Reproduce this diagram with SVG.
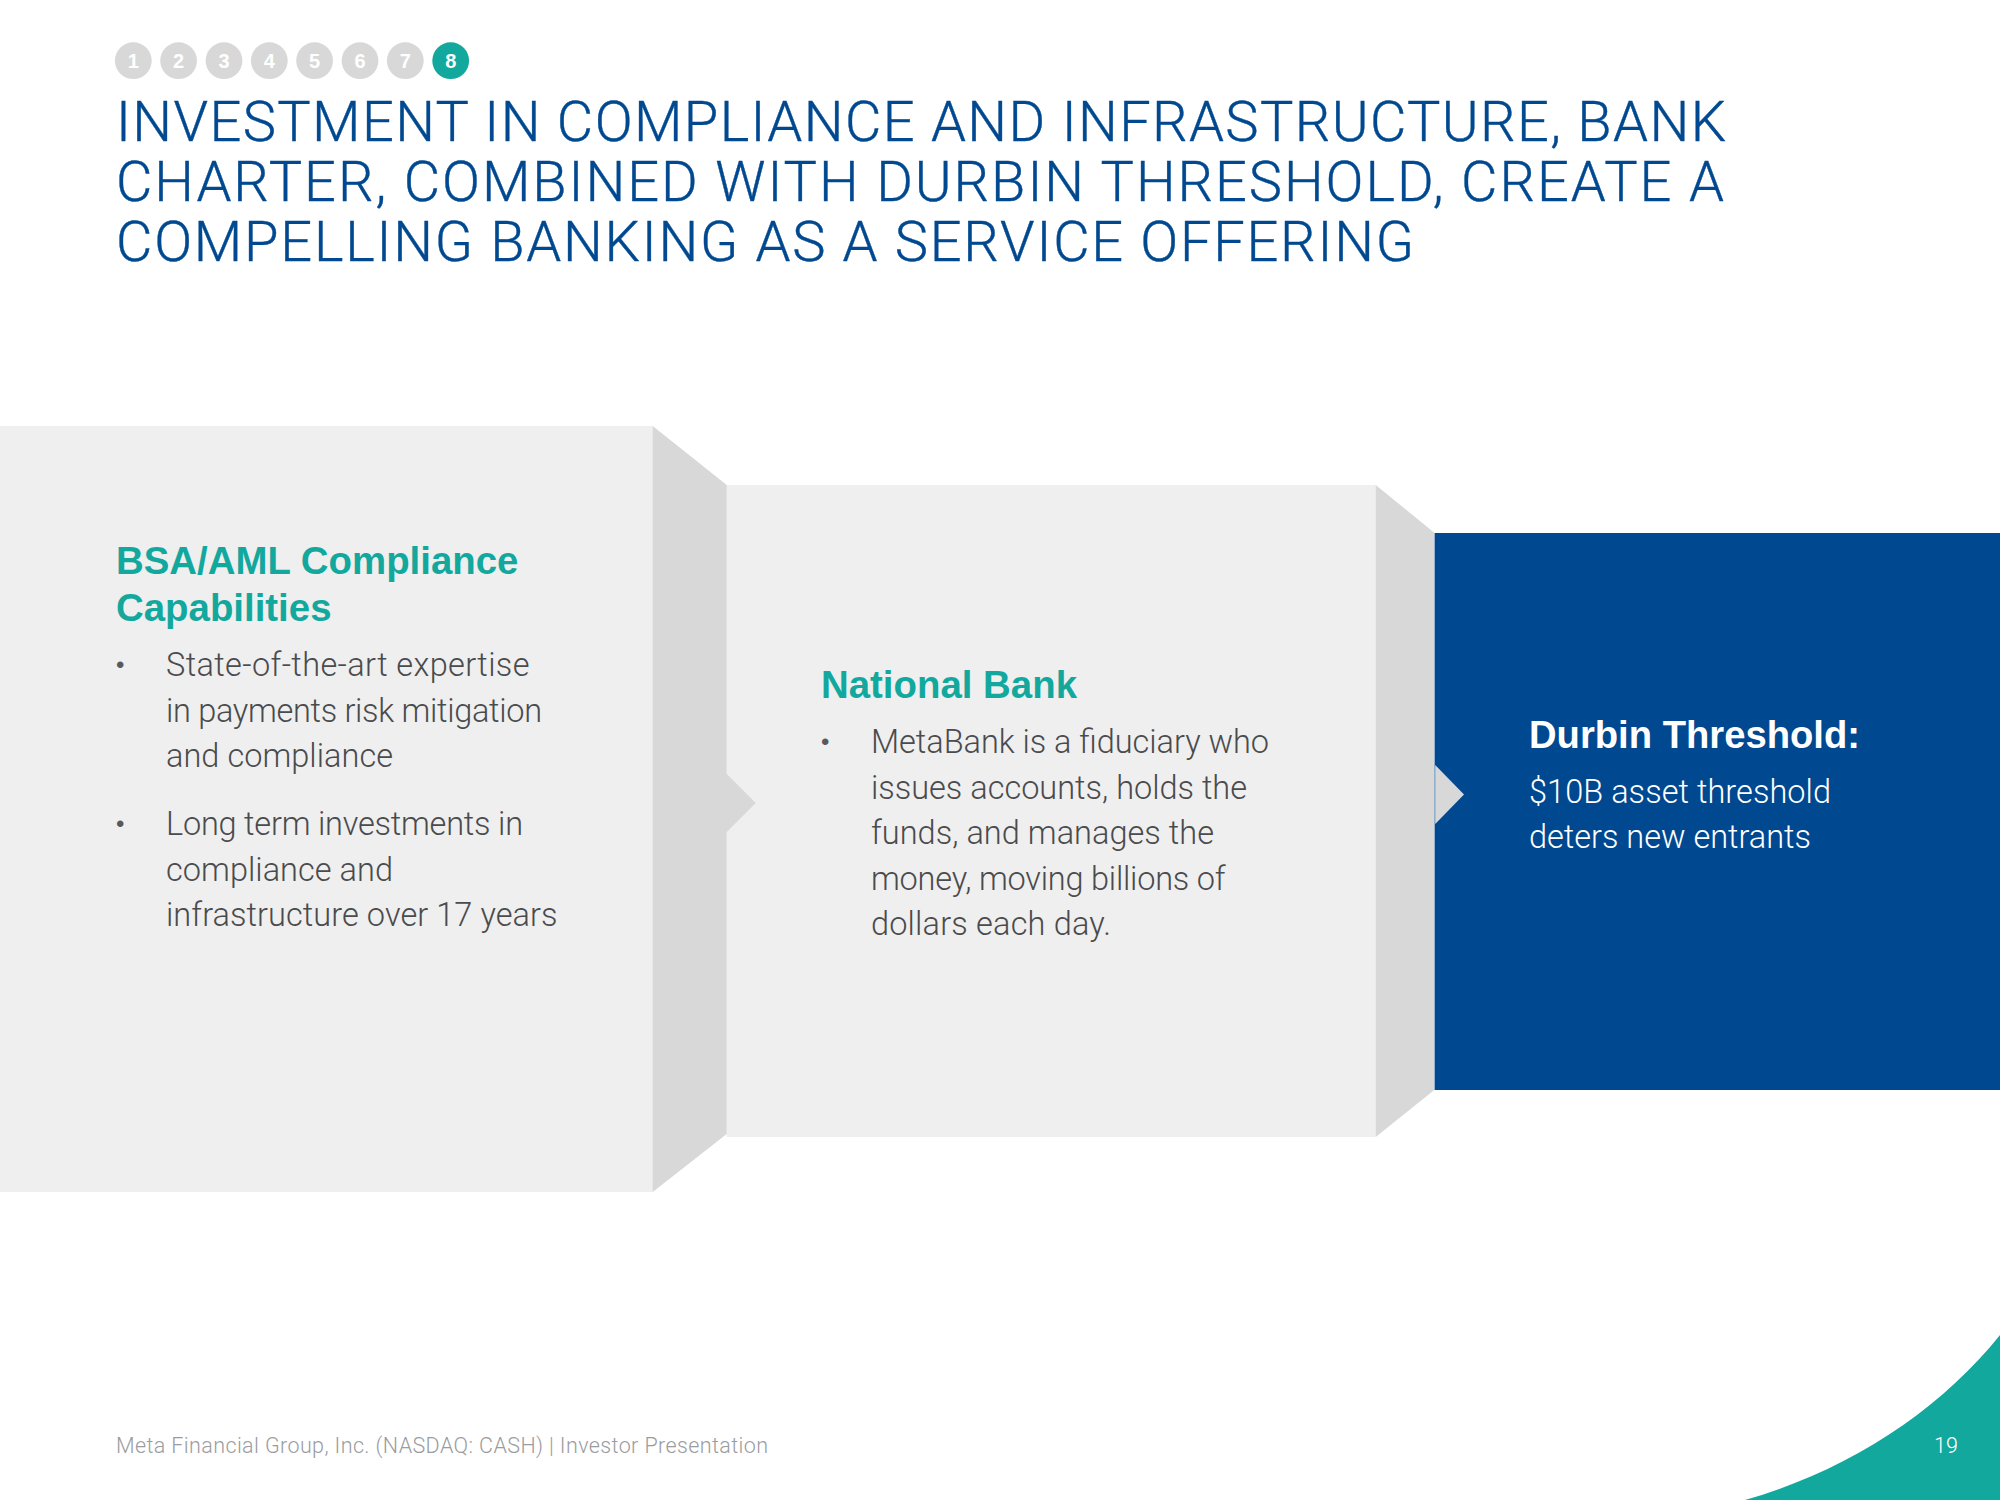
<svg xmlns="http://www.w3.org/2000/svg" width="2000" height="1500" viewBox="0 0 2000 1500">
<style>
text{font-family:"Liberation Sans",Arial,sans-serif}
.d{fill:#d8d8d8}.l{fill:#efefef}
.n{font-size:20px;font-weight:700;fill:#fff;text-anchor:middle}
.t{font-family:Roboto,"Liberation Sans",sans-serif;font-weight:300;font-size:56px;fill:#004990;stroke:#004990;stroke-width:.4px}
.h{font-size:38.400px;font-weight:700;fill:#13a89e}
.b{font-family:Roboto,"Liberation Sans",sans-serif;font-weight:300;font-size:32.500px;fill:#4a4b4d}
.u{font-size:24px;fill:#58595b}
.w{font-family:Roboto,"Liberation Sans",sans-serif;font-weight:300;font-size:32.500px;fill:#fff}
.f{font-family:Roboto,"Liberation Sans",sans-serif;font-weight:300;font-size:21.500px}
</style>
<rect width="2000" height="1500" fill="#fff"/>
<g id="steps">
<circle class="d" cx="133.300" cy="60.700" r="18.4"/><text class="n" x="133.300" y="68">1</text>
<circle class="d" cx="178.600" cy="60.700" r="18.4"/><text class="n" x="178.600" y="68">2</text>
<circle class="d" cx="224" cy="60.700" r="18.4"/><text class="n" x="224" y="68">3</text>
<circle class="d" cx="269.300" cy="60.700" r="18.4"/><text class="n" x="269.300" y="68">4</text>
<circle class="d" cx="314.600" cy="60.700" r="18.4"/><text class="n" x="314.600" y="68">5</text>
<circle class="d" cx="360" cy="60.700" r="18.4"/><text class="n" x="360" y="68">6</text>
<circle class="d" cx="405.300" cy="60.700" r="18.4"/><text class="n" x="405.300" y="68">7</text>
<circle cx="450.700" cy="60.700" r="18.4" fill="#13a89e"/><text class="n" x="450.700" y="68">8</text>
</g>
<g id="title">
<text class="t" x="116" y="141" textLength="1610">INVESTMENT IN COMPLIANCE AND INFRASTRUCTURE, BANK</text>
<text class="t" x="116" y="201" textLength="1608">CHARTER, COMBINED WITH DURBIN THRESHOLD, CREATE A</text>
<text class="t" x="116" y="261" textLength="1298">COMPELLING BANKING AS A SERVICE OFFERING</text>
</g>
<g id="node2">
<rect class="l" x="726.700" y="485" width="649" height="652"/>
<path class="d" d="M1375.700 485L1434.300 532.700V1090L1375.700 1137Z"/>
<text class="h" x="821" y="698">National Bank</text>
<text class="u" x="821" y="750">•</text>
<text class="b" x="871" y="753" textLength="398">MetaBank is a fiduciary who</text>
<text class="b" x="871" y="799" textLength="376">issues accounts, holds the</text>
<text class="b" x="871" y="844" textLength="343">funds, and manages the</text>
<text class="b" x="871" y="890" textLength="354.600">money, moving billions of</text>
<text class="b" x="871" y="935" textLength="240">dollars each day.</text>
</g>
<g id="node1">
<rect class="l" x="0" y="426" width="653" height="766"/>
<path class="d" d="M652.700 426L726.700 485V774L755.700 803L726.700 832V1134L652.700 1192Z"/>
<text class="h" x="116" y="574">BSA/AML Compliance</text>
<text class="h" x="116" y="621">Capabilities</text>
<text class="u" x="116" y="673">•</text>
<text class="b" x="166" y="676" textLength="363.500">State-of-the-art expertise</text>
<text class="b" x="166" y="722" textLength="376">in payments risk mitigation</text>
<text class="b" x="166" y="767" textLength="227">and compliance</text>
<text class="u" x="116" y="832">•</text>
<text class="b" x="166" y="835" textLength="357">Long term investments in</text>
<text class="b" x="166" y="881" textLength="227">compliance and</text>
<text class="b" x="166" y="926" textLength="391.600">infrastructure over 17 years</text>
</g>
<g id="node3">
<rect x="1434.600" y="533" width="566" height="557" fill="#004990"/>
<path class="d" d="M1435.200 765L1464 794.500L1435.200 824Z"/>
<text x="1529" y="748" style="font-size:38.2px;font-weight:700;fill:#fff">Durbin Threshold:</text>
<text class="w" x="1529" y="803" textLength="302">$10B asset threshold</text>
<text class="w" x="1529" y="848" textLength="282">deters new entrants</text>
</g>
<g id="footer">
<path d="M1745 1500C1850 1470 1940 1410 2000 1335V1500Z" fill="#13a89e"/>
<text class="f" x="116" y="1453" textLength="652" fill="#9a9c9f">Meta Financial Group, Inc. (NASDAQ: CASH) | Investor Presentation</text>
<text class="f" x="1934" y="1453" fill="#fff">19</text>
</g>
</svg>
